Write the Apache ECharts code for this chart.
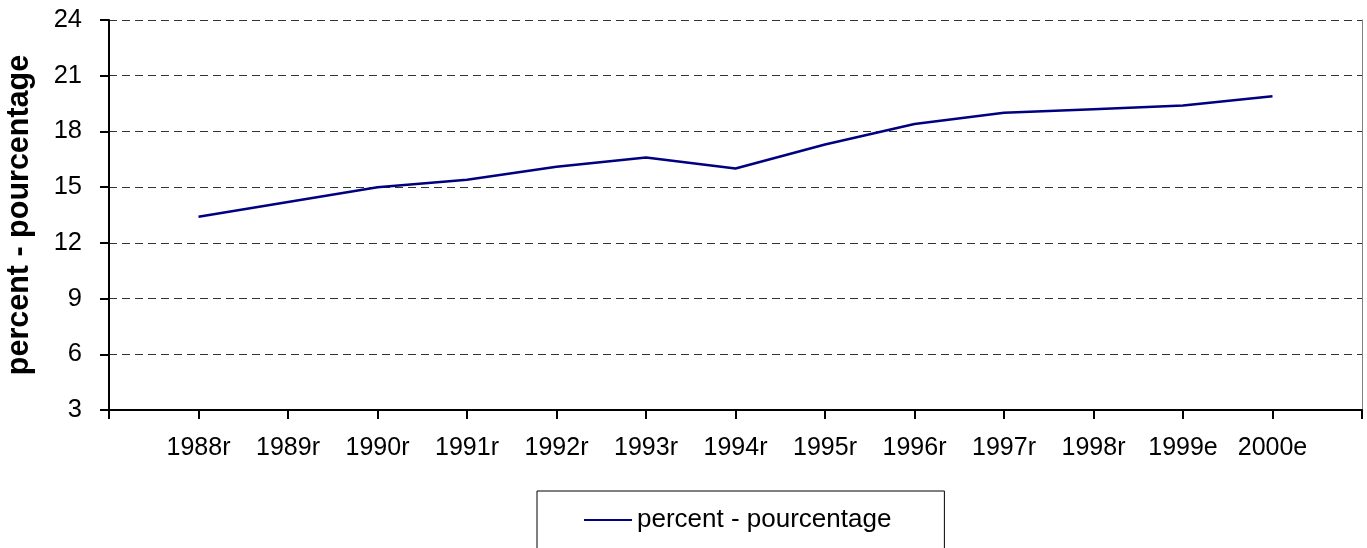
<!DOCTYPE html>
<html>
<head>
<meta charset="utf-8">
<script src="https://cdn.jsdelivr.net/npm/echarts@6/dist/echarts.min.js"></script>
<style>
html,body{margin:0;padding:0;background:#fff;}
#c{width:1367px;height:548px;}
</style>
</head>
<body>
<div id="c"></div>
<script>
const categories = ['', '1988r', '1989r', '1990r', '1991r', '1992r', '1993r', '1994r', '1995r', '1996r', '1997r', '1998r', '1999e', '2000e', ''];
const percentValues = [null, 13.4, 14.2, 15.0, 15.4, 16.1, 16.6, 16.0, 17.3, 18.4, 19.0, 19.2, 19.4, 19.9, null];
const seriesName = 'percent - pourcentage';
const yAxisTitle = 'percent - pourcentage';
const yMin = 3, yMax = 24, yStep = 3;

const FONT = 'Liberation Sans, Arial, sans-serif';
const chart = echarts.init(document.getElementById('c'), null, {renderer: 'canvas'});
chart.setOption({
  backgroundColor: '#ffffff',
  animation: false,
  textStyle: {fontFamily: FONT},
  grid: {left: 109, right: 5, top: 20, bottom: 138, containLabel: false, outerBoundsMode: 'none'},
  legend: {
    data: [{name: seriesName, icon: 'rect'}],
    left: 537,
    top: 491,
    padding: [16, 53, 16, 47],
    borderColor: '#000',
    borderWidth: 1,
    itemWidth: 48,
    itemHeight: 2,
    itemGap: 5,
    textStyle: {fontFamily: FONT, fontSize: 26, color: '#000'}
  },
  xAxis: {
    type: 'category',
    data: categories,
    boundaryGap: false,
    axisLine: {lineStyle: {color: '#000', width: 2}},
    axisTick: {show: true, length: 9, interval: 0, lineStyle: {color: '#000', width: 2}},
    axisLabel: {interval: 0, margin: 26, fontFamily: FONT, fontSize: 25, color: '#000'},
    splitLine: {show: false}
  },
  yAxis: [{
    type: 'value',
    min: yMin, max: yMax, interval: yStep,
    name: yAxisTitle,
    nameLocation: 'middle',
    nameGap: 74,
    nameTextStyle: {fontFamily: FONT, fontSize: 30.5, fontWeight: 'bold', color: '#000'},
    axisLine: {show: true, lineStyle: {color: '#000', width: 2}},
    axisTick: {show: true, length: 9, lineStyle: {color: '#000', width: 2}},
    axisLabel: {margin: 27, fontFamily: FONT, fontSize: 25.5, color: '#000'},
    splitLine: {show: true, lineStyle: {color: '#333', width: 1, type: [8, 5]}}
  }, {
    type: 'value',
    position: 'right',
    min: yMin, max: yMax, interval: yStep,
    axisLine: {show: true, lineStyle: {color: '#808080', width: 1}},
    axisTick: {show: false},
    axisLabel: {show: false},
    splitLine: {show: false}
  }],
  series: [{
    name: seriesName,
    type: 'line',
    data: percentValues,
    symbol: 'none',
    showSymbol: false,
    connectNulls: false,
    lineStyle: {color: '#000080', width: 2.5},
    itemStyle: {color: '#000080'}
  }]
});
</script>
</body>
</html>
